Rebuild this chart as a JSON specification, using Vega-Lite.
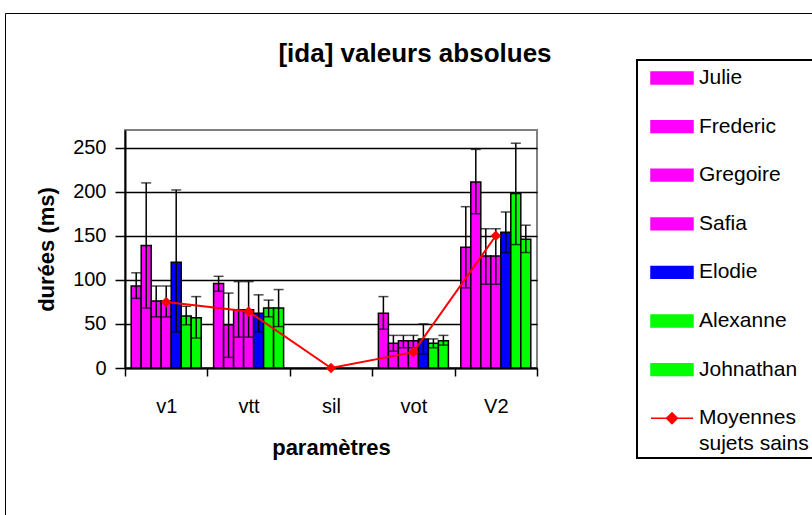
{
  "$schema": "https://vega.github.io/schema/vega-lite/v6.json",
  "width": 412,
  "height": 238,
  "autosize": {"type": "none"},
  "padding": {"left": 125, "top": 130, "right": 275, "bottom": 147},
  "background": "white",
  "config": {
    "font": "Liberation Sans",
    "view": {"stroke": "#808080", "strokeWidth": 2}
  },
  "title": {
    "text": "[ida] valeurs absolues",
    "font": "Liberation Sans",
    "fontSize": 26,
    "fontWeight": "bold",
    "color": "black",
    "anchor": "middle",
    "frame": "group",
    "dx": 84,
    "offset": -54
  },
  "datasets": {
    "sujets": [
      {"param": "v1", "sujet": "Julie", "duree": 93, "min": 79, "max": 108},
      {"param": "v1", "sujet": "Frederic", "duree": 139, "min": 68, "max": 210},
      {"param": "v1", "sujet": "Gregoire", "duree": 76, "min": 58, "max": 93},
      {"param": "v1", "sujet": "Safia", "duree": 76, "min": 58, "max": 93},
      {"param": "v1", "sujet": "Elodie", "duree": 120, "min": 41, "max": 202},
      {"param": "v1", "sujet": "Alexanne", "duree": 59, "min": 49, "max": 70},
      {"param": "v1", "sujet": "Johnathan", "duree": 57, "min": 34, "max": 81},
      {"param": "vtt", "sujet": "Julie", "duree": 96, "min": 87, "max": 104},
      {"param": "vtt", "sujet": "Frederic", "duree": 49, "min": 12, "max": 85},
      {"param": "vtt", "sujet": "Gregoire", "duree": 66, "min": 35, "max": 98},
      {"param": "vtt", "sujet": "Safia", "duree": 66, "min": 35, "max": 98},
      {"param": "vtt", "sujet": "Elodie", "duree": 62, "min": 41, "max": 83},
      {"param": "vtt", "sujet": "Alexanne", "duree": 68, "min": 58, "max": 77},
      {"param": "vtt", "sujet": "Johnathan", "duree": 68, "min": 47, "max": 89},
      {"param": "vot", "sujet": "Julie", "duree": 62, "min": 44, "max": 81},
      {"param": "vot", "sujet": "Frederic", "duree": 28, "min": 19, "max": 37},
      {"param": "vot", "sujet": "Gregoire", "duree": 31, "min": 23, "max": 37},
      {"param": "vot", "sujet": "Safia", "duree": 31, "min": 23, "max": 37},
      {"param": "vot", "sujet": "Elodie", "duree": 33, "min": 16, "max": 50},
      {"param": "vot", "sujet": "Alexanne", "duree": 28, "min": 23, "max": 33},
      {"param": "vot", "sujet": "Johnathan", "duree": 31, "min": 26, "max": 37},
      {"param": "V2", "sujet": "Julie", "duree": 137, "min": 91, "max": 183},
      {"param": "V2", "sujet": "Frederic", "duree": 211, "min": 175, "max": 248},
      {"param": "V2", "sujet": "Gregoire", "duree": 127, "min": 95, "max": 158},
      {"param": "V2", "sujet": "Safia", "duree": 127, "min": 95, "max": 158},
      {"param": "V2", "sujet": "Elodie", "duree": 154, "min": 131, "max": 177},
      {"param": "V2", "sujet": "Alexanne", "duree": 198, "min": 140, "max": 255},
      {"param": "V2", "sujet": "Johnathan", "duree": 146, "min": 131, "max": 162}
    ],
    "moyennes": [
      {"param": "v1", "moyenne": 75},
      {"param": "vtt", "moyenne": 64},
      {"param": "sil", "moyenne": 0},
      {"param": "vot", "moyenne": 18},
      {"param": "V2", "moyenne": 150}
    ]
  },
  "encoding": {
    "x": {
      "field": "param",
      "type": "nominal",
      "sort": null,
      "scale": {"domain": ["v1", "vtt", "sil", "vot", "V2"], "paddingInner": 0, "paddingOuter": 0},
      "axis": {
        "title": "paramètres",
        "titleFont": "Liberation Sans",
        "titleFontSize": 22,
        "titleFontWeight": "bold",
        "titleColor": "black",
        "titlePadding": 21,
        "labelFont": "Liberation Sans",
        "labelFontSize": 20,
        "labelColor": "black",
        "labelAngle": 0,
        "labelPadding": 20,
        "tickBand": "extent",
        "tickSize": 8,
        "tickColor": "black",
        "tickWidth": 1.5,
        "domainColor": "black",
        "domainWidth": 2,
        "grid": false
      }
    }
  },
  "layer": [
    {
      "data": {"name": "sujets"},
      "mark": {"type": "bar", "stroke": "black", "strokeWidth": 1.5},
      "encoding": {
        "xOffset": {
          "field": "sujet",
          "type": "nominal",
          "sort": null,
          "scale": {"domain": ["Julie", "Frederic", "Gregoire", "Safia", "Elodie", "Alexanne", "Johnathan"], "paddingInner": 0, "paddingOuter": 0.62}
        },
        "y": {
          "field": "duree",
          "type": "quantitative",
          "scale": {"domain": [0, 270], "nice": false},
          "axis": {
            "title": "durées (ms)",
            "titleFont": "Liberation Sans",
            "titleFontSize": 22,
            "titleFontWeight": "bold",
            "titleColor": "black",
            "titlePadding": 14,
            "labelFont": "Liberation Sans",
            "labelFontSize": 20,
            "labelColor": "black",
            "labelPadding": 9,
            "values": [0, 50, 100, 150, 200, 250],
            "tickSize": 10,
            "tickColor": "black",
            "tickWidth": 1.5,
            "domainColor": "black",
            "domainWidth": 2,
            "grid": true,
            "gridColor": "black",
            "gridWidth": 1.5
          }
        },
        "color": {
          "field": "sujet",
          "type": "nominal",
          "scale": {
            "domain": ["Julie", "Frederic", "Gregoire", "Safia", "Elodie", "Alexanne", "Johnathan", "Moyennes sujets sains"],
            "range": ["#ff00ff", "#ff00ff", "#ff00ff", "#ff00ff", "#0000ff", "#00ff00", "#00ff00", "#ff0000"]
          },
          "legend": {
            "orient": "none",
            "legendX": 512,
            "legendY": -70,
            "title": null,
            "strokeColor": "black",
            "padding": 3,
            "labelFont": "Liberation Sans",
            "labelFontSize": 21,
            "labelColor": "black",
            "labelLimit": 0,
            "labelOffset": 29,
            "symbolSize": 784,
            "rowPadding": 23.6,
            "symbolType": "M-0.286,-0.42H2.714V0.42H-0.286Z",
            "symbolStrokeWidth": 1.5,
            "symbolStrokeColor": "black",
            "labelExpr": "datum.label === 'Moyennes sujets sains' ? ['Moyennes', 'sujets sains\u2800\u2800\u2800'] : datum.label",
            "encode": {
              "legend": {
                "update": {
                  "strokeWidth": {"value": 2}
                }
              },
              "symbols": {
                "update": {
                  "shape": {"signal": "datum.value === 'Moyennes sujets sains' ? 'M-0.286,0H2.714M1.214,-0.39L1.604,0L1.214,0.39L0.824,0Z' : 'M-0.286,-0.42H2.714V0.42H-0.286Z'"},
                  "stroke": {"signal": "datum.value === 'Moyennes sujets sains' ? '#ff0000' : '#000000'"},
                  "strokeWidth": {"value": 1.5},
                  "fill": {"scale": "color", "field": "value"},
                  "opacity": {"value": 1}
                }
              },
              "labels": {
                "update": {
                  "lineHeight": {"value": 26}
                }
              }
            }
          }
        }
      }
    },
    {
      "data": {"name": "sujets"},
      "mark": {"type": "rule", "color": "black", "strokeWidth": 1.5},
      "encoding": {
        "xOffset": {"field": "sujet", "type": "nominal", "sort": null},
        "y": {"field": "min", "type": "quantitative"},
        "y2": {"field": "max"},
        "opacity": {
          "datum": "cadre",
          "type": "ordinal",
          "scale": {"domain": ["cadre"], "range": [1]},
          "legend": {
            "orient": "none",
            "legendX": -120,
            "legendY": -117,
            "title": null,
            "padding": 700,
            "strokeColor": "black",
            "symbolOpacity": 0,
            "symbolSize": 1,
            "symbolStrokeWidth": 0,
            "labelExpr": "''",
            "labelFontSize": 1,
            "encode": {
              "legend": {"update": {"strokeWidth": {"value": 2.5}}}
            }
          }
        }
      }
    },
    {
      "data": {"name": "sujets"},
      "mark": {"type": "tick", "color": "black", "size": 10, "thickness": 1.5, "orient": "horizontal"},
      "encoding": {
        "xOffset": {"field": "sujet", "type": "nominal", "sort": null},
        "y": {"field": "max", "type": "quantitative"}
      }
    },
    {
      "data": {"name": "sujets"},
      "mark": {"type": "tick", "color": "black", "size": 10, "thickness": 1.5, "orient": "horizontal"},
      "encoding": {
        "xOffset": {"field": "sujet", "type": "nominal", "sort": null},
        "y": {"field": "min", "type": "quantitative"}
      }
    },
    {
      "data": {"name": "moyennes"},
      "mark": {"type": "line", "strokeWidth": 2, "point": {"filled": true, "shape": "diamond", "size": 110}},
      "encoding": {
        "y": {"field": "moyenne", "type": "quantitative"},
        "color": {"datum": "Moyennes sujets sains"}
      }
    }
  ]
}
